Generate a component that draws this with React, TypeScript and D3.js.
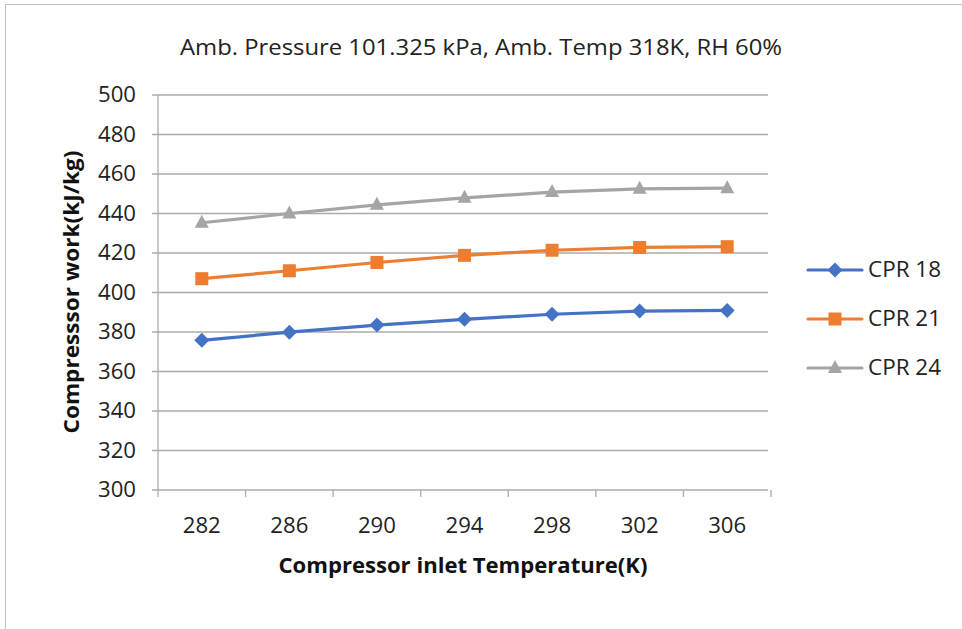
import React from "react";
import * as d3 from "d3";

const categories = [282, 286, 290, 294, 298, 302, 306];
const cpr18 = [375.8, 379.9, 383.5, 386.4, 389.0, 390.6, 390.9];
const cpr21 = [407.0, 411.0, 415.2, 418.8, 421.4, 422.8, 423.2];
const cpr24 = [435.3, 440.0, 444.4, 447.9, 450.8, 452.5, 452.8];
const yTicks = [300, 320, 340, 360, 380, 400, 420, 440, 460, 480, 500];
const seriesNames = ["CPR 18", "CPR 21", "CPR 24"];
const colors = ["#4472C4", "#ED7D31", "#A5A5A5"];

const W = 962, H = 629;
const FONT = "'Open Sans', 'Noto Sans', sans-serif";

function Marker({ kind, x, y, color }: { kind: number; x: number; y: number; color: string }) {
  if (kind === 0) {
    const r = 7.5;
    return <path d={`M${x},${y - r}L${x + r},${y}L${x},${y + r}L${x - r},${y}Z`} fill={color} />;
  }
  if (kind === 1) {
    const s = 13;
    return <rect x={x - s / 2} y={y - s / 2} width={s} height={s} fill={color} />;
  }
  const s = 14;
  const h = 13;
  return <path d={`M${x},${y - h * 0.62}L${x + s / 2},${y + h * 0.38}L${x - s / 2},${y + h * 0.38}Z`} fill={color} />;
}

export default function App() {
  const x = d3.scaleBand<number>().domain(categories).range([158, 771]);
  const y = d3.scaleLinear().domain([300, 500]).range([490, 95]);
  const data = [cpr18, cpr21, cpr24];
  const line = d3
    .line<number>()
    .x((_, i) => (x(categories[i]) as number) + x.bandwidth() / 2)
    .y((d) => y(d));
  const gridColor = "#ababab";
  const boundaries = categories.map((c) => x(c) as number).concat([x.range()[1]]);

  return (
    <svg width={W} height={H} style={{ position: "absolute", left: 0, top: 0, background: "#fff" }}>
      <rect x={5.5} y={4.5} width={W + 10} height={H + 10} fill="#fff" stroke="#c0c0c0" strokeWidth={1} />
      <text x={481} y={55} textAnchor="middle" fontFamily={FONT} fontSize={22} fill="#222" textLength={602} lengthAdjust="spacingAndGlyphs">
        Amb. Pressure 101.325 kPa, Amb. Temp 318K, RH 60%
      </text>
      {yTicks.map((t) => (
        <g key={t}>
          <line x1={152} x2={x.range()[1] - 3} y1={y(t)} y2={y(t)} stroke={gridColor} strokeWidth={1.3} />
          <text x={136} y={y(t)} dy="0.35em" textAnchor="end" fontFamily={FONT} fontSize={21} fill="#222" textLength={38} lengthAdjust="spacingAndGlyphs">
            {t}
          </text>
        </g>
      ))}
      <line x1={158} x2={158} y1={95} y2={490} stroke={gridColor} strokeWidth={1.3} />
      {boundaries.map((b, i) => (
        <line key={i} x1={b} x2={b} y1={490} y2={497} stroke={gridColor} strokeWidth={1.3} />
      ))}
      {categories.map((c) => (
        <text key={c} x={(x(c) as number) + x.bandwidth() / 2} y={533} textAnchor="middle" fontFamily={FONT} fontSize={21} fill="#222" textLength={38} lengthAdjust="spacingAndGlyphs">
          {c}
        </text>
      ))}
      <text x={463} y={573} textAnchor="middle" fontFamily={FONT} fontSize={21} fontWeight="bold" fill="#111" textLength={369} lengthAdjust="spacingAndGlyphs">
        Compressor inlet Temperature(K)
      </text>
      <text
        transform="translate(79,292) rotate(-90)"
        textAnchor="middle"
        fontFamily={FONT}
        fontSize={21}
        fontWeight="bold"
        fill="#111"
        textLength={283}
        lengthAdjust="spacingAndGlyphs"
      >
        Compresssor work(kJ/kg)
      </text>
      {data.map((vals, si) => (
        <g key={si}>
          <path d={line(vals) as string} fill="none" stroke={colors[si]} strokeWidth={3.2} strokeLinejoin="round" />
          {vals.map((v, i) => (
            <Marker key={i} kind={si} x={(x(categories[i]) as number) + x.bandwidth() / 2} y={y(v)} color={colors[si]} />
          ))}
        </g>
      ))}
      {seriesNames.map((n, si) => {
        const ly = 270 + si * 49;
        return (
          <g key={n}>
            <line x1={808} x2={862} y1={ly} y2={ly} stroke={colors[si]} strokeWidth={3.2} strokeLinecap="round" />
            <Marker kind={si} x={835} y={ly} color={colors[si]} />
            <text x={868} y={ly} dy="0.35em" fontFamily={FONT} fontSize={21} fill="#222" textLength={73} lengthAdjust="spacingAndGlyphs">
              {n}
            </text>
          </g>
        );
      })}
    </svg>
  );
}
